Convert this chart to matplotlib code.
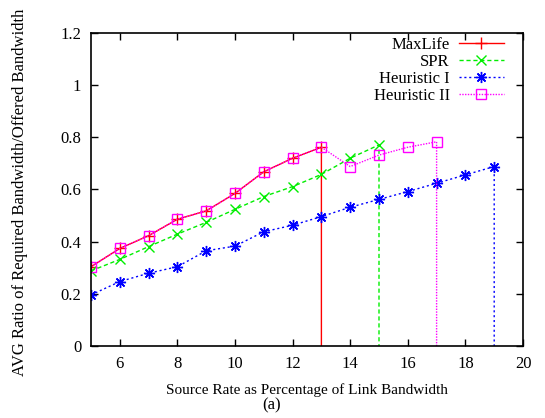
import matplotlib
matplotlib.use("Agg")
import matplotlib.pyplot as plt

plt.rcParams['font.family'] = ['Liberation Serif', 'DejaVu Serif']

# Data (the final point of each series is the drop to zero)
maxlife_x = [5, 6, 7, 8, 9, 10, 11, 12, 13, 13]
maxlife_y = [0.304, 0.374, 0.423, 0.486, 0.518, 0.585, 0.668, 0.720, 0.762, 0.0]

spr_x = [5, 6, 7, 8, 9, 10, 11, 12, 13, 14, 15, 15]
spr_y = [0.288, 0.332, 0.381, 0.429, 0.474, 0.524, 0.573, 0.611, 0.658, 0.720, 0.771, 0.0]

h1_x = [5, 6, 7, 8, 9, 10, 11, 12, 13, 14, 15, 16, 17, 18, 19, 19]
h1_y = [0.196, 0.247, 0.279, 0.304, 0.365, 0.383, 0.438, 0.463, 0.496, 0.532,
        0.562, 0.592, 0.624, 0.656, 0.688, 0.0]

h2_x = [5, 6, 7, 8, 9, 10, 11, 12, 13, 14, 15, 16, 17, 17]
h2_y = [0.304, 0.374, 0.423, 0.486, 0.518, 0.585, 0.668, 0.720, 0.762, 0.688,
        0.732, 0.762, 0.783, 0.0]

labels = ["MaxLife", "SPR", "Heuristic I", "Heuristic II"]
xticks = [6, 8, 10, 12, 14, 16, 18, 20]
yticks = [0, 0.2, 0.4, 0.6, 0.8, 1.0, 1.2]
yticklabels = ["0", "0.2", "0.4", "0.6", "0.8", "1", "1.2"]

fig = plt.figure(figsize=(5.45, 4.18), dpi=100)
ax = fig.add_axes([91/545, 1-346/418, (523-91)/545, (346-33)/418])

ms = 7
ax.plot(maxlife_x, maxlife_y, color='#ff0000', lw=1.0, ls='-', marker='+',
        ms=ms+1, mew=1.0, markevery=slice(0, -1), label=labels[0])
ax.plot(spr_x, spr_y, color='#00ee00', lw=1.0, ls=(0, (3, 2)), marker='x',
        ms=ms, mew=1.0, markevery=slice(0, -1), label=labels[1])
ax.plot(h1_x, h1_y, color='#0000ff', lw=1.0, ls=(0, (1.5, 2)), marker=(8, 2, 0),
        ms=ms+1, mew=1.0, markevery=slice(0, -1), label=labels[2])
ax.plot(h2_x, h2_y, color='#ff00ff', lw=1.0, ls=(0, (1, 1)), marker='s',
        ms=ms, mew=1.0, mfc='none', markevery=slice(0, -1), label=labels[3])

ax.set_xlim(5, 20)
ax.set_ylim(0, 1.2)
ax.set_xticks(xticks)
ax.set_yticks(yticks)
ax.set_yticklabels(yticklabels)
ax.tick_params(direction='in', length=5, width=1, top=True, right=True,
               labelsize=12, pad=7)
for s in ax.spines.values():
    s.set_linewidth(1.2)

ax.set_xlabel("Source Rate as Percentage of Link Bandwidth", fontsize=11, labelpad=8)
ax.set_ylabel("AVG Ratio of Required Bandwidth/Offered Bandwidth", fontsize=12)
ax.yaxis.set_label_coords(-0.146, 0.492)

leg = ax.legend(loc='upper right', markerfirst=False, frameon=False, fontsize=12,
                handlelength=2.7, handletextpad=0.55, labelspacing=0.05,
                borderaxespad=0.0, borderpad=0.0, bbox_to_anchor=(0.956, 0.987))

fig.text(272/545, 1-405/418, "(a)", ha='center', va='center', fontsize=12)

fig.savefig("out.png", dpi=100)
